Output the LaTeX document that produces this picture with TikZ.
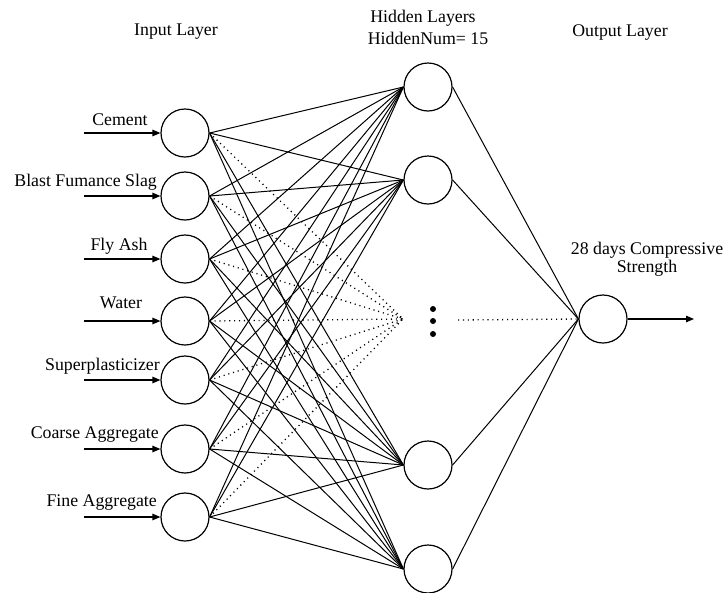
\documentclass[tikz,border=0pt]{standalone}
\usepackage{fontspec}
\setmainfont{Liberation Serif}
\usetikzlibrary{arrows.meta}
\begin{document}
\begin{tikzpicture}[x=1pt,y=-1pt,
  neuron/.style={draw,circle,minimum size=48pt,inner sep=0pt,line width=1.2pt},
  lbl/.style={font=\fontsize{17.8}{18.5}\selectfont,inner sep=0pt},
  wire/.style={line width=1pt},
  dwire/.style={line width=1.3pt,dash pattern=on 1.1pt off 3.8pt},
  inarrow/.style={line width=1.2pt,-{Triangle[length=8pt,width=6.5pt]}}]
\useasboundingbox (0,0) rectangle (727,592);
% layer titles
\node[lbl] (tin) at (176,32) {Input Layer};
\node[lbl] (thid1) at (423,18) {Hidden Layers};
\node[lbl] (thid2) at (428,38) {HiddenNum= 15};
\node[lbl] (tout) at (620,33) {Output Layer};
% input nodes
\node[neuron] (i1) at (185,133) {};
\node[neuron] (i2) at (185,196) {};
\node[neuron] (i3) at (185,259) {};
\node[neuron] (i4) at (185,321) {};
\node[neuron] (i5) at (185,380) {};
\node[neuron] (i6) at (185,449) {};
\node[neuron] (i7) at (185,517) {};
% hidden nodes
\node[neuron] (h1) at (428,87) {};
\node[neuron] (h2) at (428,180) {};
\node[neuron] (h3) at (428,465) {};
\node[neuron] (h4) at (428,569) {};
\coordinate (hc) at (403,319);
% output node
\node[neuron] (o) at (603,319) {};
\coordinate (oend) at (694,319);
\node[lbl,align=center] (olbl) at (647,259) {28 days Compressive\\Strength};
% dots
\node[circle,fill,inner sep=0pt,minimum size=6pt] (d1) at (433,309) {};
\node[circle,fill,inner sep=0pt,minimum size=6pt] (d2) at (433,321) {};
\node[circle,fill,inner sep=0pt,minimum size=6pt] (d3) at (433,334) {};
\coordinate (ds) at (458,320);
% input labels and arrows
\node[lbl] (l1) at (120,120) {Cement};
\node[lbl,anchor=east] (l2) at (157,182) {Blast Fumance Slag};
\node[lbl] (l3) at (119,246) {Fly Ash};
\node[lbl] (l4) at (121,303) {Water};
\node[lbl,anchor=east] (l5) at (160,366) {Superplasticizer};
\node[lbl,anchor=east] (l6) at (159,435) {Coarse Aggregate};
\node[lbl,anchor=east] (l7) at (157,503) {Fine Aggregate};
\foreach \k in {1,...,7}{
  \path (i\k.west) ++(-76,0) coordinate (s\k);
  \draw[inarrow] (s\k) -- (i\k.west);
}
% connections
\foreach \k in {1,...,7}{
  \foreach \h in {1,...,4}{
    \draw[wire] (i\k.east) -- (h\h.west);
  }
  \draw[dwire] (i\k.east) -- (hc);
}
\foreach \h in {1,...,4}{
  \draw[wire] (h\h.east) -- (o.west);
}
\draw[dwire] (ds) -- (o.west);
\draw[inarrow] (o.east) -- (oend);
\end{tikzpicture}
\end{document}
